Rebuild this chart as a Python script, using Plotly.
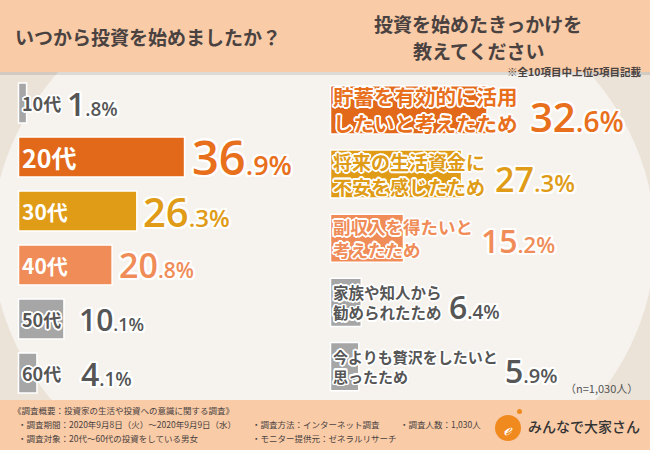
import math
import plotly.graph_objects as go

W, H = 650, 450

# ---------------- data ----------------
age_groups = ["10代", "20代", "30代", "40代", "50代", "60代"]
age_share = [1.8, 36.9, 26.3, 20.8, 10.1, 4.1]

reasons = [
    "貯蓄を有効的に活用<br>したいと考えたため",
    "将来の生活資金に<br>不安を感じたため",
    "副収入を得たいと<br>考えたため",
    "家族や知人から<br>勧められたため",
    "今よりも贅沢をしたいと<br>思ったため",
]
reason_share = [32.6, 27.3, 15.2, 6.4, 5.9]

title_left = "いつから投資を始めましたか？"
title_right = ["投資を始めたきっかけを", "教えてください"]
note_right = "※全10項目中上位5項目記載"
sample_note = "（n=1,030人）"
footer_head = "《調査概要：投資家の生活や投資への意識に関する調査》"
footer_items = [
    "・調査期間：2020年9月8日（火）～2020年9月9日（水）",
    "・調査対象：20代～60代の投資をしている男女",
    "・調査方法：インターネット調査",
    "・モニター提供元：ゼネラルリサーチ",
    "・調査人数：1,030人",
]
brand = "みんなで大家さん"

# ---------------- style ----------------
JP = "Noto Sans CJK JP"
NUM = "Open Sans"
ORANGE, GOLD, SALMON, GRAY = "#e2691a", "#e09c17", "#f08c58", "#a6a6a6"
DARK, TITLE, PEACH = "#565656", "#4a4240", "#f9cba7"

left_bar_colors = [GRAY, ORANGE, GOLD, SALMON, GRAY, GRAY]
left_label_colors = [DARK, "#ffffff", "#ffffff", "#ffffff", DARK, DARK]
left_value_colors = [DARK, "#e8701c", GOLD, SALMON, DARK, DARK]
left_label_size = [18, 25, 21, 21, 18, 18]
left_value_big = [32, 47, 40, 34, 30, 32]
left_value_small = [19, 27, 24, 21, 18, 19]
left_value_pad = [7, 7, 6, 7, 15, 21]

right_bar_colors = [ORANGE, GOLD, SALMON, GRAY, GRAY]
right_text_colors = ["#e8701c", GOLD, SALMON, DARK, DARK]
right_label_size = [20.5, 19, 17.5, 15.5, 15]
right_value_big = [40, 34, 32, 32, 32]
right_value_small = [28, 24, 22, 19, 20]
right_value_dy = [-7, -5, -2, -4, -4]
right_value_pad = [13, 10, 8, 8, 7]

# pixel geometry of the two panels
L_X0, L_SCALE, L_Y0, L_STEP = 18.5, 4.5, 103.0, 54.0
R_X0, R_SCALE, R_Y0, R_STEP = 330.5, 4.8, 109.8, 64.2


def outline(w, color="#ffffff", n=16):
    parts = []
    for k in range(n):
        a = 2 * math.pi * k / n
        parts.append(f"{w*math.cos(a):.2f}px {w*math.sin(a):.2f}px 0 {color}")
    return ", ".join(parts)


def px(x):
    return x / W


def py(y):
    return 1 - y / H


def value_html(v, big, small):
    ip, dp = f"{v:.1f}".split(".")
    return (f"<span style='font-size:{big}px'>{ip}</span>"
            f"<span style='font-size:{small}px'>.{dp}%</span>")


fig = go.Figure()

fig.add_trace(go.Bar(
    y=age_groups, x=age_share, orientation="h", xaxis="x", yaxis="y",
    marker=dict(color=left_bar_colors, line=dict(color="#ffffff", width=1.5)),
    width=0.74, hoverinfo="skip", showlegend=False,
))
reason_keys = [r.split("<br>")[0] for r in reasons]
fig.add_trace(go.Bar(
    y=reason_keys, x=reason_share, orientation="h",
    xaxis="x2", yaxis="y2",
    marker=dict(color=right_bar_colors, line=dict(color="#ffffff", width=1.5)),
    width=0.75, hoverinfo="skip", showlegend=False,
))

ann = []


def A(**kw):
    d = dict(showarrow=False, borderpad=0, borderwidth=0)
    d.update(kw)
    ann.append(d)


# ---- left panel labels / values
for i, (g, v) in enumerate(zip(age_groups, age_share)):
    fs = left_label_size[i]
    white_fill = left_label_colors[i] == "#ffffff"
    A(x=0, y=i, xref="x", yref="y", xanchor="left", yanchor="middle", xshift=3.5,
      text=g,
      font=dict(family=JP, size=fs, color=left_label_colors[i], weight=700,
                shadow=("none" if white_fill else outline(1.6))))
    bar_end = v * L_SCALE
    label_end = 3.5 + fs * 2.1
    shift = max(bar_end, label_end) - bar_end + left_value_pad[i]
    A(x=v, y=i, xref="x", yref="y", xanchor="left", yanchor="middle", xshift=shift,
      text=value_html(v, left_value_big[i], left_value_small[i]),
      font=dict(family=NUM, size=left_value_big[i], color=left_value_colors[i],
                weight=600, shadow=outline(2.2)))

# ---- right panel labels / values
for i, (r, v) in enumerate(zip(reasons, reason_share)):
    fs = right_label_size[i]
    lines = r.split("<br>")
    A(x=0, y=i, xref="x2", yref="y2", xanchor="left", yanchor="middle",
      align="left", xshift=2, text=r,
      font=dict(family=JP, size=fs, color=right_text_colors[i], weight=700,
                shadow=outline(1.6)))
    label_w = max(len(l) for l in lines) * fs
    shift = 2 + label_w + right_value_pad[i] - v * R_SCALE
    A(x=v, y=i, xref="x2", yref="y2", xanchor="left", yanchor="middle",
      xshift=shift, yshift=right_value_dy[i],
      text=value_html(v, right_value_big[i], right_value_small[i]),
      font=dict(family=NUM, size=right_value_big[i], color=right_text_colors[i],
                weight=600, shadow=outline(2.2)))

# ---- titles and notes
A(x=px(15), y=py(37), xref="paper", yref="paper", xanchor="left", yanchor="middle",
  text=title_left, font=dict(family=JP, size=19, color=TITLE, weight=700))
for k, t in enumerate(title_right):
    A(x=px(478), y=py(23 + 28 * k), xref="paper", yref="paper", xanchor="center",
      yanchor="middle", text=t, font=dict(family=JP, size=19, color=TITLE, weight=700))
A(x=px(642), y=py(71), xref="paper", yref="paper", xanchor="right", yanchor="middle",
  text=note_right, font=dict(family=JP, size=10.5, color=TITLE, weight=700))
A(x=px(638), y=py(388), xref="paper", yref="paper", xanchor="right", yanchor="middle",
  text=sample_note, font=dict(family=JP, size=11, color="#555555"))

# ---- footer
foot_pos = [(18, 424), (18, 438), (252, 424), (252, 438), (400, 424)]
A(x=px(13), y=py(410), xref="paper", yref="paper", xanchor="left", yanchor="middle",
  text=footer_head, font=dict(family=JP, size=8.5, color=TITLE))
for t, (fx, fy) in zip(footer_items, foot_pos):
    A(x=px(fx), y=py(fy), xref="paper", yref="paper", xanchor="left", yanchor="middle",
      text=t, font=dict(family=JP, size=8.5, color=TITLE))
A(x=px(508), y=py(428), xref="paper", yref="paper", xanchor="center", yanchor="middle",
  text="<i>ℯ</i>", font=dict(family="DejaVu Serif", size=18, color="#ffffff"))
A(x=px(528), y=py(426), xref="paper", yref="paper", xanchor="left", yanchor="middle",
  text=brand, font=dict(family=JP, size=14, color="#333333", weight=500))

shapes = [
    dict(type="circle", xref="paper", yref="paper", layer="below",
         x0=px(-8), x1=px(655), y0=py(520), y1=py(-40),
         fillcolor="#f6f3ef", line=dict(width=0)),
    dict(type="rect", xref="paper", yref="paper", layer="below",
         x0=0, x1=1, y0=py(72), y1=1, fillcolor=PEACH, line=dict(width=0)),
    dict(type="line", xref="paper", yref="paper", layer="below",
         x0=0, x1=1, y0=py(73.5), y1=py(73.5), line=dict(color="rgba(0,0,0,0.10)", width=3)),
    dict(type="rect", xref="paper", yref="paper", layer="below",
         x0=0, x1=1, y0=0, y1=py(400), fillcolor=PEACH, line=dict(width=0)),
    dict(type="circle", xref="paper", yref="paper",
         x0=px(495), x1=px(521), y0=py(441), y1=py(415),
         fillcolor="#f08a1e", line=dict(width=0)),
    dict(type="circle", xref="paper", yref="paper",
         x0=px(517), x1=px(522), y0=py(414), y1=py(409),
         fillcolor="#f08a1e", line=dict(width=0)),
]

hidden = dict(visible=False, showgrid=False, zeroline=False, fixedrange=True)
fig.update_layout(
    width=W, height=H, margin=dict(l=0, r=0, t=0, b=0),
    paper_bgcolor="#ebe3d8", plot_bgcolor="rgba(0,0,0,0)",
    hovermode=False, showlegend=False, bargap=0,
    xaxis=dict(domain=[0, 1], anchor="y", autorange=False,
               range=[(0 - L_X0) / L_SCALE, (W - L_X0) / L_SCALE], **hidden),
    yaxis=dict(domain=[0, 1], anchor="x", type="category", autorange=False,
               categoryorder="array", categoryarray=age_groups,
               range=[(H - L_Y0) / L_STEP, (0 - L_Y0) / L_STEP], **hidden),
    xaxis2=dict(domain=[0, 1], anchor="y2", autorange=False,
                range=[(0 - R_X0) / R_SCALE, (W - R_X0) / R_SCALE], **hidden),
    yaxis2=dict(domain=[0, 1], anchor="x2", type="category", autorange=False,
                categoryorder="array", categoryarray=reason_keys,
                range=[(H - R_Y0) / R_STEP, (0 - R_Y0) / R_STEP], **hidden),
    annotations=ann, shapes=shapes,
)

fig.write_html("out.html", config={"displayModeBar": False, "staticPlot": True})
